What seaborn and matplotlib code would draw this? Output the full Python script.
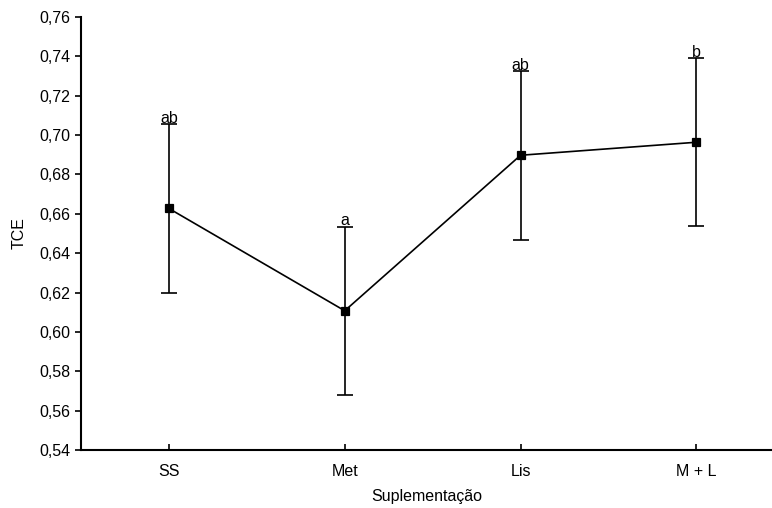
import matplotlib
matplotlib.use("Agg")
import matplotlib.pyplot as plt
import seaborn as sns
import numpy as np
from matplotlib.ticker import FuncFormatter, MultipleLocator

groups = ["SS", "Met", "Lis", "M + L"]
means = [0.6627, 0.6108, 0.6897, 0.6963]
errors = [0.0427, 0.0427, 0.0428, 0.0427]
letters = ["ab", "a", "ab", "b"]

sns.set_style("ticks")
plt.rcParams["font.family"] = ["Liberation Sans", "DejaVu Sans"]
plt.rcParams["text.color"] = "black"
plt.rcParams["axes.labelcolor"] = "black"
plt.rcParams["xtick.color"] = "black"
plt.rcParams["ytick.color"] = "black"
fs = 11.5

fig = plt.figure(figsize=(7.72, 5.08), dpi=100)
ax = fig.add_axes([81 / 772, (508 - 450.3) / 508, 1 - 81 / 772, (450.3 - 16.7) / 508])

sns.pointplot(x=groups, y=means, color="black", markers="s", linestyles="-",
              markersize=5.5, linewidth=1.2, ax=ax, errorbar=None)
pos = np.arange(len(groups))
ax.errorbar(pos, means, yerr=errors, fmt="none", ecolor="black",
            elinewidth=1.2, capsize=6, capthick=1.2, zorder=1)

for x, m, e, lab in zip(pos, means, errors, letters):
    ax.annotate(lab, (x, m + e), xytext=(0, 1), textcoords="offset points",
                ha="center", va="baseline", fontsize=fs, color="black")

ax.set_xlim(-0.5, 3.43)
ax.set_ylim(0.54, 0.76)
ax.yaxis.set_major_locator(MultipleLocator(0.02))
ax.yaxis.set_major_formatter(FuncFormatter(lambda v, p: f"{v:.2f}".replace(".", ",")))
ax.tick_params(axis="x", direction="in", length=4, width=1.2, labelsize=fs, pad=10)
ax.tick_params(axis="y", direction="out", length=4, width=1.2, labelsize=fs)
for s in ["top", "right"]:
    ax.spines[s].set_visible(False)
for s in ["left", "bottom"]:
    ax.spines[s].set_linewidth(1.5)
    ax.spines[s].set_color("black")

ax.set_xlabel("Suplementação", fontsize=fs, labelpad=7)
ax.set_ylabel("TCE", fontsize=fs, labelpad=9)

fig.savefig("out.png", dpi=100)
